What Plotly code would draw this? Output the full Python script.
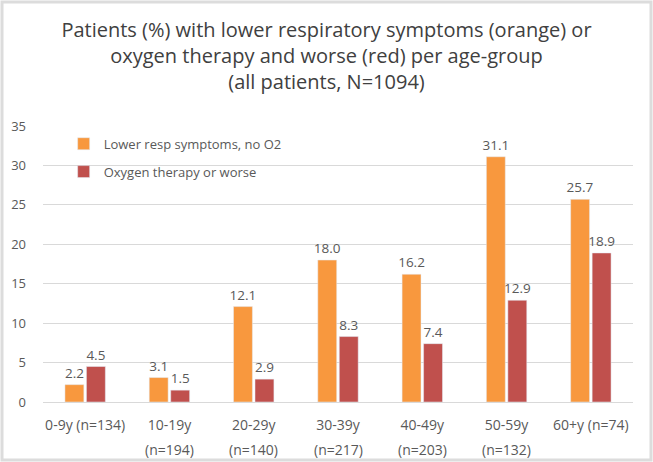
import plotly.graph_objects as go

# age groups (x categories) and patient counts
age_groups = ["0-9y", "10-19y", "20-29y", "30-39y", "40-49y", "50-59y", "60+y"]
n_patients = [134, 194, 140, 217, 203, 132, 74]
lower_resp = [2.2, 3.1, 12.1, 18.0, 16.2, 31.1, 25.7]
oxygen_worse = [4.5, 1.5, 2.9, 8.3, 7.4, 12.9, 18.9]
y_ticks = [0, 5, 10, 15, 20, 25, 30, 35]

ORANGE = "#F8983E"
RED = "#C0504D"
TEXT = "#595959"
GRID = "#D9D9D9"
FONT = "Open Sans, Lato, sans-serif"

W, H = 653, 462
ML, MR, MT, MB = 43, 20, 126, 60
PW, PH = W - ML - MR, H - MT - MB

# first and last groups fit on one line, the others wrap
single = {0, len(age_groups) - 1}
line1 = [f"{a} (n={n})" if i in single else a
         for i, (a, n) in enumerate(zip(age_groups, n_patients))]
line2 = ["" if i in single else f"(n={n})" for i, n in enumerate(n_patients)]

fig = go.Figure()
fig.add_trace(go.Bar(
    x=age_groups, y=lower_resp, name="Lower resp symptoms, no O2",
    marker_color=ORANGE, text=[f"{v:.1f}" for v in lower_resp],
    textposition="outside", constraintext="none", legendgroup="a",
    textfont=dict(color=TEXT, size=13.5),
))
fig.add_trace(go.Bar(
    x=age_groups, y=oxygen_worse, name="Oxygen therapy or worse",
    marker_color=RED, text=[f"{v:.1f}" for v in oxygen_worse],
    textposition="outside", constraintext="none", legendgroup="b",
    textfont=dict(color=TEXT, size=13.5),
))

fig.update_layout(
    width=W, height=H,
    margin=dict(l=ML, r=MR, t=MT, b=MB),
    paper_bgcolor="white", plot_bgcolor="white",
    font=dict(family=FONT, color=TEXT, size=13),
    title=dict(
        text="Patients (%) with lower respiratory symptoms (orange) or<br>"
             "oxygen therapy and worse (red) per age-group<br>"
             "(all patients, N=1094)",
        x=0.5, xanchor="center", y=0.92, yanchor="top",
        font=dict(family=FONT, color="#404040", size=20),
    ),
    barmode="group", bargap=0.49, bargroupgap=0.12,
    showlegend=True,
    legend=dict(
        x=0.035, y=0.99, xanchor="left", yanchor="top",
        bgcolor="rgba(0,0,0,0)", font=dict(size=13, color=TEXT),
        tracegroupgap=8, itemwidth=30,
    ),
)
fig.update_xaxes(
    showgrid=False, showline=True, linecolor=GRID, linewidth=1,
    tickmode="array", tickvals=age_groups, ticktext=line1,
    tickfont=dict(size=14, color=TEXT), ticks="", ticklabelstandoff=10,
)
fig.update_yaxes(
    range=[0, 35], tickvals=y_ticks, showgrid=True, gridcolor=GRID,
    zeroline=False, showline=False, tickfont=dict(size=13, color=TEXT),
    ticklabelstandoff=16,
)
fig.update_traces(cliponaxis=False)

# second line of the category labels
for cat, txt in zip(age_groups, line2):
    if txt:
        fig.add_annotation(
            x=cat, y=0, xref="x", yref="paper", yanchor="middle",
            yshift=-47, text=txt, showarrow=False,
            font=dict(size=14, color=TEXT),
        )

# outer chart frame (light grey edge round the whole picture)
fig.add_shape(
    type="rect", xref="paper", yref="paper",
    x0=(2 - ML) / PW, x1=(W - 2 - ML) / PW,
    y0=(H - MB - (H - 2)) / PH, y1=(H - MB - 2) / PH,
    line=dict(color="#DCDCDC", width=3), layer="above",
)

fig.write_html("out.html", config={"displayModeBar": False},
               post_script="document.body.style.margin='0';")
